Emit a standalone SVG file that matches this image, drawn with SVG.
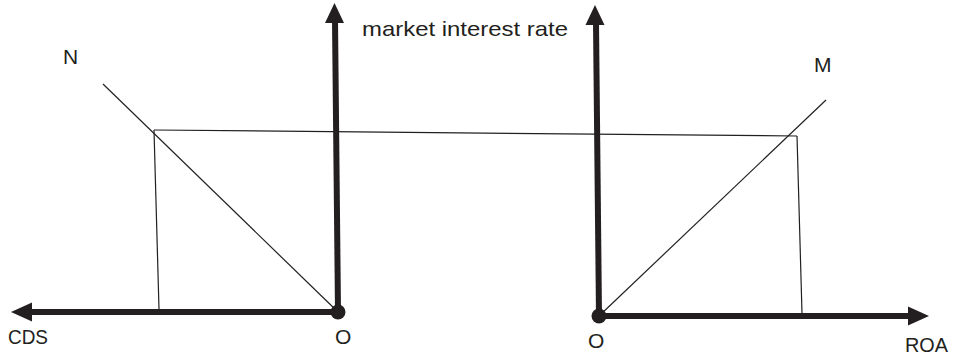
<svg xmlns="http://www.w3.org/2000/svg" width="956" height="357" viewBox="0 0 956 357">
<style>
.thin{stroke:#231f20;stroke-width:1.2;fill:none}
.axis{stroke:#231f20;stroke-width:6;fill:none}
.head{fill:#231f20}
text{font-family:"Liberation Sans",Arial,sans-serif;fill:#231f20;font-size:21px}
</style>
<rect width="956" height="357" fill="#fff"/>
<g id="connectors">
<line class="thin" x1="103" y1="84" x2="338" y2="312"/>
<line class="thin" x1="154" y1="130" x2="797" y2="136"/>
<line class="thin" x1="154" y1="130" x2="159" y2="309"/>
<line class="thin" x1="599" y1="316" x2="826" y2="100"/>
<line class="thin" x1="797" y1="136" x2="802" y2="313"/>
</g>
<g id="left-axes">
<line class="axis" x1="338" y1="312" x2="335" y2="20"/>
<polygon class="head" points="334.5,3 325,23 344,23"/>
<line class="axis" x1="338" y1="312" x2="28" y2="312"/>
<polygon class="head" points="11,312 32,302.5 32,321.5"/>
<circle class="head" cx="338" cy="312" r="7.5"/>
</g>
<g id="right-axes">
<line class="axis" x1="599" y1="316" x2="596" y2="22"/>
<polygon class="head" points="595,5 585.5,25 604.5,25"/>
<line class="axis" x1="599" y1="316" x2="912" y2="316"/>
<polygon class="head" points="929,316 908,306.5 908,325.5"/>
<circle class="head" cx="599" cy="316" r="7.5"/>
</g>
<g id="labels">
<text x="362" y="36" font-size="24" textLength="206" lengthAdjust="spacingAndGlyphs">market interest rate</text>
<text x="63" y="64">N</text>
<text x="814" y="72">M</text>
<text x="8" y="344" textLength="40" lengthAdjust="spacingAndGlyphs">CDS</text>
<text x="335" y="344">O</text>
<text x="588" y="348">O</text>
<text x="905" y="352" textLength="43" lengthAdjust="spacingAndGlyphs">ROA</text>
</g>
</svg>
